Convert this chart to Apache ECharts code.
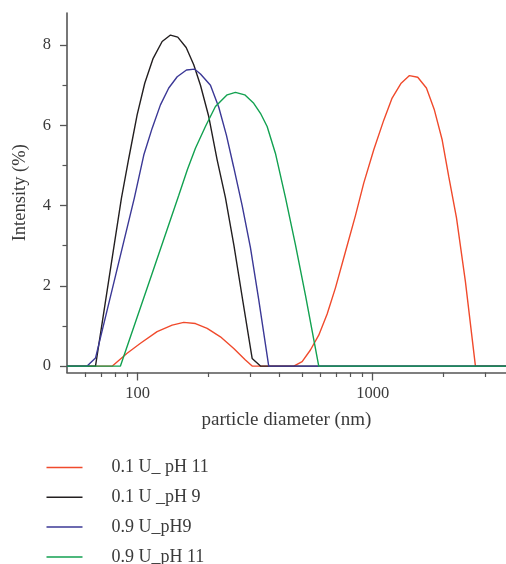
<!DOCTYPE html>
<html><head><meta charset="utf-8">
<script src="https://cdn.jsdelivr.net/npm/echarts@6/dist/echarts.min.js"></script>
<style>html,body{margin:0;padding:0;background:#fff}#c{width:506px;height:564px}</style>
</head><body><div id="c"></div>
<script>
const seriesNames = ['0.1 U_ pH 11', '0.1 U _pH 9', '0.9 U_pH9', '0.9 U_pH 11'];

const redD = [50,78.0,90.1,102.7,120.9,140.1,156.9,176.0,197.4,224.8,256.2,287.2,306.8,461.2,500.6,543.0,589.2,639.7,693.9,765.3,844.0,915.5,1010,1114,1209,1321,1433,1554,1692,1830,1974,2106,2271,2480,2735,4000];
const redV = [0,0,0.32,0.57,0.86,1.02,1.09,1.06,0.94,0.73,0.44,0.15,0,0,0.11,0.40,0.77,1.30,1.95,2.85,3.75,4.56,5.39,6.13,6.68,7.05,7.24,7.20,6.93,6.38,5.64,4.72,3.70,2.10,0,0];

const blackD = [50,66.1,75.05,85.2,91.6,99.4,107.1,116.3,127.0,137.8,148.0,160.7,173.1,184.9,200.5,217.7,236.1,256.7,280.4,306.8,332.8,4000];
const blackV = [0,0,2.09,4.18,5.18,6.26,7.05,7.67,8.09,8.25,8.20,7.94,7.51,7.0,6.22,5.14,4.2,3.0,1.6,0.19,0,0];

const blueD = [50,60.9,66.1,80.4,96.8,106.1,115.2,124.9,135.5,147.2,161.2,174.8,184.9,203.9,221.2,238.5,256.2,278.2,301.7,327.3,360.9,4000];
const blueV = [0,0,0.2,2.25,4.2,5.26,5.93,6.51,6.93,7.21,7.38,7.40,7.28,7.0,6.45,5.75,4.95,4.0,2.95,1.65,0,0];

const greenD = [50,84.4,113.3,149.5,162.7,176.0,194.1,214.1,240.2,260.4,285.3,311.6,332.8,355.3,385.5,425.2,469.0,517.1,589.2,4000];
const greenV = [0,0,2.19,4.26,4.9,5.43,5.97,6.47,6.76,6.82,6.76,6.55,6.3,5.97,5.30,4.2,3.02,1.77,0,0];

const xMajorTicks = [100, 1000];
const xMinorTicks = [60,70,80,90,200,300,400,500,600,700,800,900,2000,3000];
const yMajorTicks = [0, 2, 4, 6, 8];
const yMinorTicks = [1, 3, 5, 7];

const xName = 'particle diameter (nm)';
const yName = 'Intensity (%)';

const colors = ['#f04a2c', '#231f20', '#3b3896', '#12a150'];
const seriesD = [redD, blackD, blueD, greenD];
const seriesV = [redV, blackV, blueV, greenV];

const FONT = 'Liberation Serif';
const TXT = '#3a3a3a';
const AX = '#555555';

const xMin = 50, xMax = 3690, yMin = -0.16, yMax = 8.8;

const chart = echarts.init(document.getElementById('c'), null, {renderer: 'canvas'});
chart.setOption({
  animation: false,
  backgroundColor: '#ffffff',
  grid: {left: 67, right: 0, top: 13, bottom: 191.5, containLabel: false},
  legend: {
    orient: 'vertical', left: 46.5, top: 458.5, height: 140, padding: 0,
    icon: 'rect', itemWidth: 36, itemHeight: 1.5, itemGap: 11.8,
    data: seriesNames,
    textStyle: {fontFamily: FONT, fontSize: 18, color: TXT, lineHeight: 18, padding: [0, 0, 0, 24]}
  },
  xAxis: [{
    type: 'log', min: xMin, max: xMax, position: 'bottom',
    name: xName, nameLocation: 'middle', nameGap: 38,
    nameTextStyle: {fontFamily: FONT, fontSize: 19, color: TXT},
    axisLine: {show: true, onZero: false, lineStyle: {color: AX, width: 1.6}},
    axisTick: {show: true, customValues: xMajorTicks, length: 8, lineStyle: {color: AX, width: 1.3}},
    axisLabel: {customValues: xMajorTicks, margin: 13, fontFamily: FONT, fontSize: 16.5, color: TXT,
      formatter: v => String(v)},
    splitLine: {show: false}, minorTick: {show: false}
  }, {
    type: 'log', min: xMin, max: xMax, position: 'bottom', gridIndex: 0,
    axisLine: {show: false, onZero: false},
    axisTick: {show: true, customValues: xMinorTicks, length: 4.5, lineStyle: {color: AX, width: 1.2}},
    axisLabel: {show: false}, splitLine: {show: false}
  }],
  yAxis: [{
    type: 'value', min: yMin, max: yMax, position: 'left',
    name: yName, nameLocation: 'middle', nameGap: 37, nameRotate: 90,
    nameTextStyle: {fontFamily: FONT, fontSize: 18.5, color: TXT},
    axisLine: {show: true, onZero: false, lineStyle: {color: AX, width: 1.6}},
    axisTick: {show: true, customValues: yMajorTicks, length: 7, lineStyle: {color: AX, width: 1.3}},
    axisLabel: {customValues: yMajorTicks, margin: 16, fontFamily: FONT, fontSize: 16.5, color: TXT},
    splitLine: {show: false}
  }, {
    type: 'value', min: yMin, max: yMax, position: 'left', gridIndex: 0,
    axisLine: {show: false, onZero: false},
    axisTick: {show: true, customValues: yMinorTicks, length: 4.5, lineStyle: {color: AX, width: 1.2}},
    axisLabel: {show: false}, splitLine: {show: false}
  }],
  series: seriesNames.map((name, i) => ({
    name, type: 'line', xAxisIndex: 0, yAxisIndex: 0,
    data: seriesD[i].map((d, j) => [d, seriesV[i][j]]),
    showSymbol: false, symbol: 'none', clip: true,
    color: colors[i],
    lineStyle: {color: colors[i], width: 1.4},
    itemStyle: {color: colors[i]},
    z: 2 + i
  }))
});
</script>
</body></html>
